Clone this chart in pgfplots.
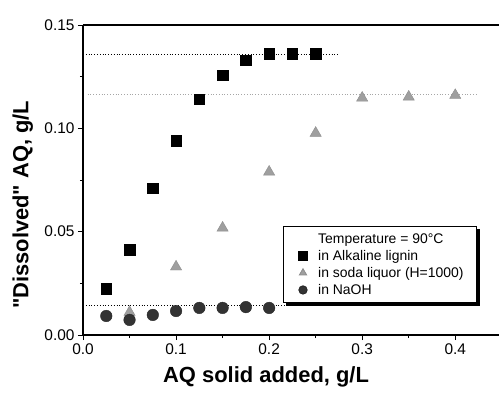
\documentclass[border=0pt]{standalone}
\usepackage{fontspec}
\setmainfont{Liberation Sans}
\usepackage{pgfplots}
\pgfplotsset{compat=1.18}
\usetikzlibrary{shadows}
\begin{document}
\begin{tikzpicture}
\begin{axis}[name=ax, scale only axis, width=416bp, height=310bp,
 xmin=0, xmax=0.447, ymin=0, ymax=0.15,
 axis x line*=box, axis y line*=left,
 xtick pos=bottom, ytick pos=left,
 axis line style={line width=1.2bp},
 xtick={0,0.1,0.2,0.3,0.4}, ytick={0,0.05,0.1,0.15},
 minor x tick num=1, minor y tick num=1,
 tick align=outside,
 major tick length=5bp, minor tick length=3bp,
 tick style={line width=0.9bp, black},
 /pgf/number format/assume math mode=true,
 tick label style={font=\fontsize{15.5}{17}\selectfont},
 xticklabel style={/pgf/number format/.cd, fixed, fixed zerofill, precision=1},
 yticklabel style={/pgf/number format/.cd, fixed, fixed zerofill, precision=2},
 xlabel={AQ solid added, g/L},
 ylabel={"Dissolved" AQ, g/L},
 xlabel style={font=\bfseries\fontsize{22}{24}\selectfont, at={(axis description cs:0.44,-0.135)}, anchor=center},
 ylabel style={font=\bfseries\fontsize{22}{24}\selectfont\addfontfeature{Ligatures=TeXOff}, at={(axis description cs:-0.145,0.42)}, anchor=center},
 legend style={at={(axis description cs:0.481,0.352)}, anchor=north west, draw=black, line width=0.8bp, fill=white,
   font=\fontsize{14}{16}\selectfont, row sep=1.5bp, inner xsep=11bp, inner ysep=5bp,
   /tikz/every odd column/.append style={column sep=9bp},
   drop shadow={shadow xshift=3bp, shadow yshift=-3bp, fill=black, opacity=1}},
 legend image post style={mark size=4.2bp},
 legend cell align=left,
]
\addplot[black, dotted, line width=0.8bp, forget plot] coordinates {(0,0.136)(0.275,0.136)};
\addplot[gray!70, dotted, line width=0.8bp, forget plot] coordinates {(0.005,0.1165)(0.425,0.1165)};
\addplot[black, dotted, line width=0.8bp, forget plot] coordinates {(0,0.0141)(0.23,0.0141)};
\addlegendimage{empty legend}
\addlegendentry{Temperature = 90°C}
\addplot[only marks, mark=square*, mark size=5.3bp, mark options={fill=black, draw=black}] coordinates {
(0.025,0.0223)(0.05,0.0414)(0.075,0.0711)(0.1,0.0939)(0.125,0.1140)(0.15,0.1258)(0.175,0.1330)(0.2,0.1360)(0.225,0.1360)(0.25,0.1360)};
\addlegendentry{in Alkaline lignin}
\addplot[only marks, mark=triangle*, mark size=6.5bp, mark options={fill=gray!75, draw=gray!90}] coordinates {
(0.05,0.0110)(0.1,0.0330)(0.15,0.0518)(0.2,0.0789)(0.25,0.0977)(0.3,0.1147)(0.35,0.1152)(0.4,0.1160)};
\addlegendentry{in soda liquor (H=1000)}
\addplot[only marks, mark=*, mark size=5.8bp, mark options={fill=black!80, draw=black!85}] coordinates {
(0.025,0.0092)(0.05,0.0073)(0.075,0.0097)(0.1,0.0116)(0.125,0.0131)(0.15,0.0131)(0.175,0.0135)(0.2,0.0131)};
\addlegendentry{in NaOH}
\end{axis}
\pgfresetboundingbox
\useasboundingbox ([shift={(-83bp,-59bp)}]ax.south west) rectangle ([shift={(0bp,25bp)}]ax.north east);
\end{tikzpicture}
\end{document}
